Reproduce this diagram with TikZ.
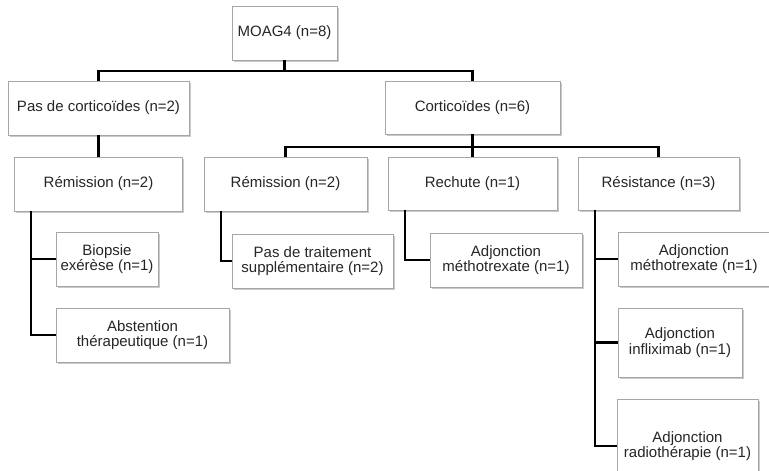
\documentclass[tikz,border=0pt]{standalone}
\usepackage{fontspec}
\setmainfont{Liberation Sans}
\usetikzlibrary{shadows,calc}
\begin{document}
\begin{tikzpicture}[x=1pt,y=-1pt,
  box/.style={draw=black!35, line width=0.8pt, fill=white, align=center, inner sep=0pt,
    text=black!85, font=\fontsize{15}{15.5}\selectfont,
    drop shadow={shadow xshift=1.5pt, shadow yshift=-2pt, opacity=0.35, fill=black!60}},
  link/.style={line width=2.2pt, black}]
\useasboundingbox[fill=white] (0,0) rectangle (769,471);
% boxes
\node[box, minimum width=105pt, minimum height=54pt] (moag) at (284.5,33) {MOAG4 (n=8)};
\node[box, minimum width=181pt, minimum height=54pt] (pas) at (98.5,108) {Pas de corticoïdes (n=2)};
\node[box, minimum width=175pt, minimum height=53pt] (cort) at (472.5,107.5) {Corticoïdes (n=6)};
\node[box, minimum width=168pt, minimum height=54pt] (reml) at (98.5,184) {Rémission (n=2)};
\node[box, minimum width=163pt, minimum height=54pt] (remm) at (285.5,184) {Rémission (n=2)};
\node[box, minimum width=169pt, minimum height=53pt] (rech) at (472.5,183.5) {Rechute (n=1)};
\node[box, minimum width=161pt, minimum height=53pt] (resi) at (658.5,183.5) {Résistance (n=3)};
\node[box, minimum width=102pt, minimum height=54pt] (biop) at (107,259) {Biopsie\\exérèse (n=1)};
\node[box, minimum width=173pt, minimum height=54pt] (abst) at (142.5,335) {Abstention\\thérapeutique (n=1)};
\node[box, minimum width=161pt, minimum height=54pt] (pastr) at (312.5,261) {Pas de traitement\\supplémentaire (n=2)};
\node[box, minimum width=152pt, minimum height=54pt] (adjr) at (506,260) {Adjonction\\méthotrexate (n=1)};
\node[box, minimum width=152pt, minimum height=54pt] (adjm) at (694,259) {Adjonction\\méthotrexate (n=1)};
\node[box, minimum width=124pt, minimum height=69pt] (infl) at (680,342.5) {Adjonction\\infliximab (n=1)};
\node[box, minimum width=141pt, minimum height=94pt] (radio) at (687.5,446) {Adjonction\\radiothérapie (n=1)};
% junctions
\coordinate (j1) at (284.5,71);
\coordinate (j2) at (472.5,147);
\coordinate (v1) at ($(reml.south west)+(17,0)$);
\coordinate (v2) at ($(remm.south west)+(17,0)$);
\coordinate (v3) at ($(rech.south west)+(17,0)$);
\coordinate (v4) at ($(resi.south west)+(17,0)$);
% connectors
\draw[link] (moag.south) -- (j1);
\draw[link] (pas.north) |- (j1) -| (cort.north);
\draw[link] (cort.south) -- (rech.north);
\draw[link] (remm.north) |- (j2) -| (resi.north);
\draw[link] (pas.south) -- (reml.north);
\draw[link] (v1) |- (biop.west);
\draw[link] (v1) |- (abst.west);
\draw[link] (v2) |- (pastr.west);
\draw[link] (v3) |- (adjr.west);
\draw[link] (v4) |- (adjm.west);
\draw[link] (v4) |- (infl.west);
\draw[link] (v4) |- (radio.west);
\end{tikzpicture}
\end{document}
